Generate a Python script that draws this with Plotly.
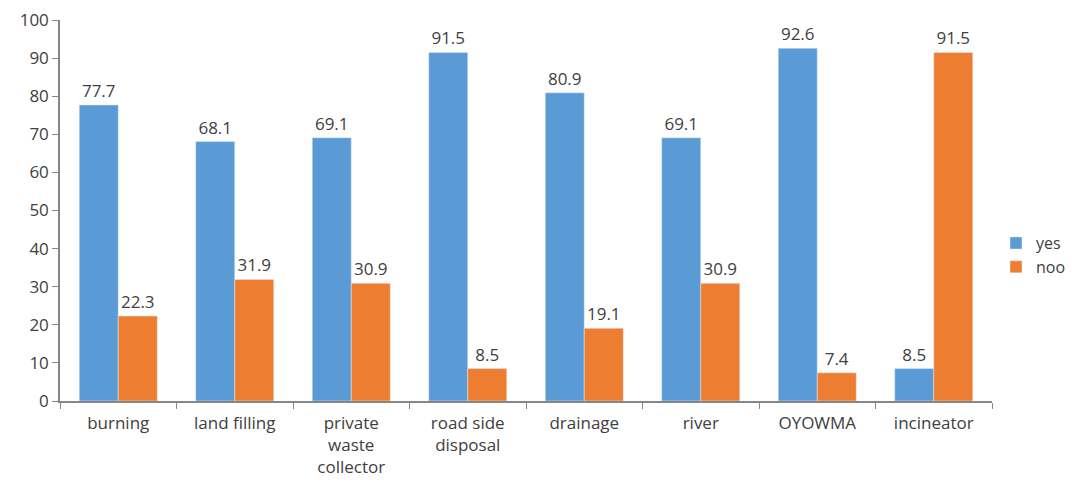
import plotly.graph_objects as go

categories = ["burning", "land filling", "private<br>waste<br>collector", "road side<br>disposal",
              "drainage", "river", "OYOWMA", "incineator"]
yes_vals = [77.7, 68.1, 69.1, 91.5, 80.9, 69.1, 92.6, 8.5]
noo_vals = [22.3, 31.9, 30.9, 8.5, 19.1, 30.9, 7.4, 91.5]
y_ticks = list(range(0, 101, 10))

font_family = "Open Sans"
txt_color = "#404040"
W = 1072
L = 60
plot_right = 992
paper_w = W - L

fig = go.Figure()
fig.add_trace(go.Bar(x=categories, y=yes_vals, name="yes", marker_color="#5B9BD5",
                     text=[f"{v}" for v in yes_vals], textposition="outside",
                     textfont=dict(size=17, color=txt_color, family=font_family),
                     cliponaxis=False))
fig.add_trace(go.Bar(x=categories, y=noo_vals, name="noo", marker_color="#ED7D31",
                     text=[f"{v}" for v in noo_vals], textposition="outside",
                     textfont=dict(size=17, color=txt_color, family=font_family),
                     cliponaxis=False))

fig.update_layout(
    width=W, height=488,
    margin=dict(l=L, r=0, t=20, b=87, autoexpand=False),
    paper_bgcolor="white", plot_bgcolor="white",
    barmode="group", bargap=0.33, bargroupgap=0,
    font=dict(family=font_family, size=17, color=txt_color),
    showlegend=True,
    legend=dict(x=(996 - L) / paper_w, y=0.383, xanchor="left", yanchor="middle",
                font=dict(size=16, color=txt_color), itemwidth=30,
                tracegroupgap=0, bgcolor="rgba(0,0,0,0)"),
    xaxis=dict(domain=[0, (plot_right - L) / paper_w],
               showline=True, linecolor="#868686", linewidth=1.5,
               ticks="outside", tickson="boundaries", ticklen=6, tickcolor="#868686",
               ticklabelstandoff=6,
               tickfont=dict(size=17, color=txt_color)),
    yaxis=dict(range=[0, 100], tickvals=y_ticks, showgrid=False, zeroline=False,
               showline=True, linecolor="#868686", linewidth=1.5,
               ticks="outside", ticklen=6, tickcolor="#868686",
               tickfont=dict(size=17, color=txt_color)),
)

fig.write_html("out.html")
